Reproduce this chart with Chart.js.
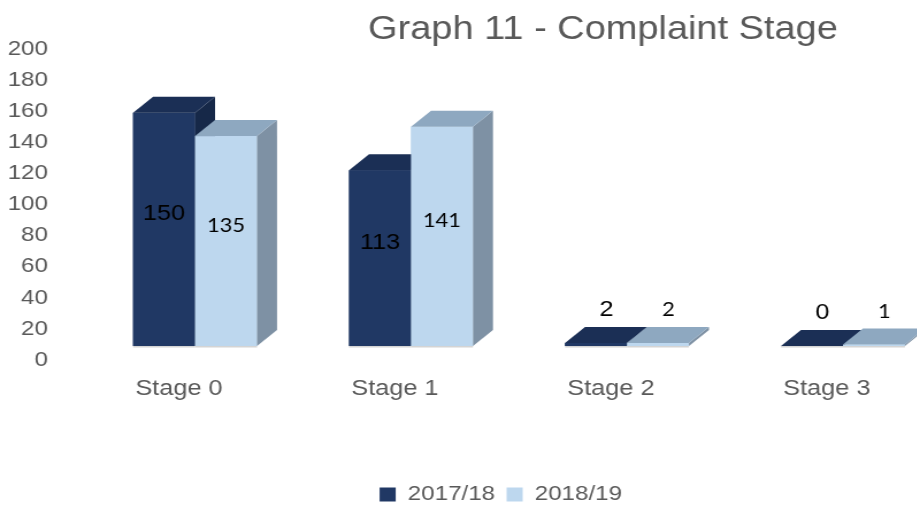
<!DOCTYPE html>
<html>
<head>
<meta charset="utf-8">
<script src="https://cdn.jsdelivr.net/npm/chart.js@4/dist/chart.umd.min.js"></script>
<style>
  html, body { margin: 0; padding: 0; background: #ffffff; overflow: hidden; width: 917px; height: 505px; }
  #wrap { position: absolute; left: 0; top: 0; width: 871px; height: 505px; transform: scaleX(1.15); transform-origin: 0 0; }
</style>
</head>
<body>
<div id="wrap"><canvas id="c"></canvas></div>
<script>
const categories = ['Stage 0', 'Stage 1', 'Stage 2', 'Stage 3'];
const seriesNames = ['2017/18', '2018/19'];
const values2017 = [150, 113, 2, 0];
const values2018 = [135, 141, 2, 1];
const yTicks = [0, 20, 40, 60, 80, 100, 120, 140, 160, 180, 200];
const chartTitle = 'Graph 11 - Complaint Stage';

const FONT = '"Liberation Sans", Arial, sans-serif';
const faces = [
  { front: '#203864', top: '#1b2f55', side: '#162848' },
  { front: '#bdd7ee', top: '#8ea8c0', side: '#7e91a4' }
];
const DX = 17.4, DY = -16;

const bar3d = {
  id: 'bar3d',
  afterDatasetsDraw(chart) {
    const ctx = chart.ctx;
    ctx.save();
    for (let i = 0; i < categories.length; i++) {
      chart.data.datasets.forEach((ds, d) => {
        const el = chart.getDatasetMeta(d).data[i];
        const w = el.width;
        const l = el.x - w / 2, r = el.x + w / 2, t = el.y, b = el.base;
        const f = faces[d];
        ctx.fillStyle = f.front;
        ctx.fillRect(l, t, w, b - t);
        ctx.fillStyle = f.side;
        ctx.beginPath();
        ctx.moveTo(r, t); ctx.lineTo(r + DX, t + DY); ctx.lineTo(r + DX, b + DY); ctx.lineTo(r, b);
        ctx.closePath(); ctx.fill();
        ctx.fillStyle = f.top;
        ctx.beginPath();
        ctx.moveTo(l, t); ctx.lineTo(l + DX, t + DY); ctx.lineTo(r + DX, t + DY); ctx.lineTo(r, t);
        ctx.closePath(); ctx.fill();
        ctx.fillStyle = '#d4d4d4';
        ctx.fillRect(l, b, w, 1.5);
      });
    }
    chart.data.datasets.forEach((ds, d) => {
      chart.getDatasetMeta(d).data.forEach((el, i) => {
        const v = ds.data[i];
        const h = el.base - el.y;
        let x, y;
        if (h > 60) { x = el.x; y = (el.y + el.base) / 2 - 15; }
        else { x = el.x + 9; y = el.y - 33; }
        ctx.fillStyle = '#000000';
        ctx.textAlign = 'center';
        ctx.textBaseline = 'middle';
        ctx.font = d === 0 ? '22px ' + FONT : '19px Lato, "Open Sans", sans-serif';
        ctx.fillText(String(v), x, y);
      });
    });
    ctx.fillStyle = '#595959';
    ctx.font = '33px ' + FONT;
    ctx.textAlign = 'center';
    ctx.textBaseline = 'alphabetic';
    ctx.fillText(chartTitle, 524.3, 38.5);
    ctx.restore();
  }
};

new Chart(document.getElementById('c'), {
  type: 'bar',
  data: {
    labels: categories,
    datasets: [
      { label: seriesNames[0], data: values2017, backgroundColor: faces[0].front },
      { label: seriesNames[1], data: values2018, backgroundColor: faces[1].front }
    ]
  },
  options: {
    responsive: true,
    maintainAspectRatio: false,
    animation: false,
    layout: { padding: { top: 35, right: 0, left: 0, bottom: -10 } },
    datasets: { bar: { categoryPercentage: 0.574, barPercentage: 1.0 } },
    plugins: {
      title: { display: false },
      tooltip: { enabled: false },
      legend: {
        position: 'bottom',
        labels: {
          font: { family: FONT, size: 21 },
          color: '#595959',
          boxWidth: 14,
          boxHeight: 14,
          padding: 10
        }
      }
    },
    scales: {
      x: {
        grid: { display: false, drawTicks: false },
        border: { display: false },
        ticks: { font: { family: FONT, size: 22 }, color: '#595959', padding: 30, labelOffset: -14 },
        afterFit(s) { s.height = 128; }
      },
      y: {
        min: 0, max: 200,
        afterBuildTicks(s) { s.ticks = yTicks.map(v => ({ value: v })); },
        grid: { display: false, drawTicks: false },
        border: { display: false },
        ticks: { font: { family: FONT, size: 21 }, color: '#595959', padding: 34, labelOffset: 14 },
        afterFit(s) { s.width = 75.7; s.paddingTop = 0; s.paddingBottom = 0; }
      },
      yRight: {
        position: 'right',
        min: 0, max: 200,
        grid: { display: false, drawTicks: false },
        border: { display: false },
        ticks: { display: false },
        afterFit(s) { s.width = 44.1; s.paddingTop = 0; s.paddingBottom = 0; }
      }
    }
  },
  plugins: [bar3d]
});
</script>
</body>
</html>
